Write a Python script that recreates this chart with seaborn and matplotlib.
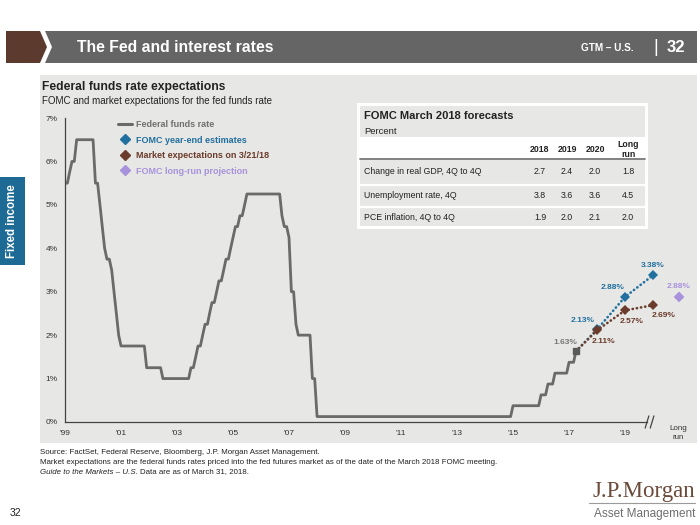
import pandas as pd
import seaborn as sns
import matplotlib.pyplot as plt
import matplotlib.dates as mdates
from matplotlib.patches import Polygon, Rectangle
from matplotlib.lines import Line2D

# Federal funds rate (month-end, midpoint of target range) - vertices of the line
ffr_month = ['1999-12', '2000-01', '2000-02', '2000-03', '2000-04', '2000-05', '2000-12',
             '2001-01', '2001-02', '2001-03', '2001-04', '2001-05', '2001-06', '2001-07',
             '2001-08', '2001-09', '2001-10', '2001-11', '2001-12', '2002-10', '2002-11',
             '2003-05', '2003-06', '2004-05', '2004-06', '2004-07', '2004-08', '2004-09',
             '2004-10', '2004-11', '2004-12', '2005-01', '2005-02', '2005-03', '2005-04',
             '2005-05', '2005-06', '2005-07', '2005-08', '2005-09', '2005-10', '2005-11',
             '2005-12', '2006-01', '2006-02', '2006-03', '2006-04', '2006-05', '2006-06',
             '2007-08', '2007-09', '2007-10', '2007-11', '2007-12', '2008-01', '2008-02',
             '2008-03', '2008-04', '2008-09', '2008-10', '2008-11', '2008-12', '2015-11',
             '2015-12', '2016-11', '2016-12', '2017-02', '2017-03', '2017-05', '2017-06',
             '2017-11', '2017-12', '2018-02', '2018-03']
ffr_rate = [5.5, 5.5, 5.75, 6.0, 6.0, 6.5, 6.5,
            5.5, 5.5, 5.0, 4.5, 4.0, 3.75, 3.75,
            3.5, 3.0, 2.5, 2.0, 1.75, 1.75, 1.25,
            1.25, 1.0, 1.0, 1.25, 1.25, 1.5, 1.75,
            1.75, 2.0, 2.25, 2.25, 2.5, 2.75, 2.75,
            3.0, 3.25, 3.25, 3.5, 3.75, 3.75, 4.0,
            4.25, 4.5, 4.5, 4.75, 4.75, 5.0, 5.25,
            5.25, 4.75, 4.5, 4.5, 4.25, 3.0, 3.0,
            2.25, 2.0, 2.0, 1.0, 1.0, 0.125, 0.125,
            0.375, 0.375, 0.625, 0.625, 0.875, 0.875, 1.125,
            1.125, 1.375, 1.375, 1.63]

# projections: current rate then year-end 2018, 2019, 2020
proj_dates = ['2018-03-31', '2018-12-31', '2019-12-31', '2020-12-31']
fomc_rate = [1.63, 2.13, 2.88, 3.38]
market_rate = [1.63, 2.11, 2.57, 2.69]
longrun_date = '2021-12-05'
longrun_rate = 2.88

year_ticks = ['1999-12-31', '2001-12-31', '2003-12-31', '2005-12-31', '2007-12-31', '2009-12-31',
              '2011-12-31', '2013-12-31', '2015-12-31', '2017-12-31', '2019-12-31']
year_labels = ["'99", "'01", "'03", "'05", "'07", "'09", "'11", "'13", "'15", "'17", "'19"]

# FOMC March 2018 forecasts table
tbl_cols = ['2018', '2019', '2020', 'Long\nrun']
tbl_rows = ['Change in real GDP, 4Q to 4Q', 'Unemployment rate, 4Q', 'PCE inflation, 4Q to 4Q']
tbl_vals = [[2.7, 2.4, 2.0, 1.8],
            [3.8, 3.6, 3.6, 4.5],
            [1.9, 2.0, 2.1, 2.0]]

GRAY_LINE = '#6a6a6a'
BLUE = '#22709f'
BROWN = '#6b3b2b'
LAV = '#a892dc'
PANEL = '#e7e7e5'
TXT = '#222222'

sns.set_theme(style='white')
plt.rcParams['font.family'] = ['Liberation Sans', 'DejaVu Sans']

fig = plt.figure(figsize=(7, 5.25), dpi=100)
fig.patch.set_facecolor('white')

# page furniture drawn in pixel coordinates
bg = fig.add_axes([0, 0, 1, 1], zorder=0)
bg.set_xlim(0, 700)
bg.set_ylim(525, 0)
bg.axis('off')

bg.add_patch(Polygon([(6, 31), (40, 31), (47, 47), (40, 63), (6, 63)], closed=True, fc='#5c3a2d', ec='none'))
bg.add_patch(Polygon([(45, 31), (697, 31), (697, 63), (45, 63), (52, 47)], closed=True, fc='#656565', ec='none'))
bg.text(77, 47.5, 'The Fed and interest rates', color='white', fontsize=11.3, weight='bold', va='center')
bg.text(634, 48, 'GTM \u2013 U.S.', color='white', fontsize=7.2, weight='bold', va='center', ha='right')
bg.text(656, 47, '|', color='white', fontsize=13, va='center', ha='center')
bg.text(685, 47.5, '32', color='white', fontsize=12, weight='bold', va='center', ha='right')

bg.add_patch(Rectangle((40, 75), 657, 368, fc=PANEL, ec='none'))

bg.add_patch(Rectangle((0, 177), 25, 88, fc='#1d6b95', ec='none'))
bg.text(12.5, 221, 'Fixed income', color='white', fontsize=8.3, weight='bold', rotation=90,
        ha='center', va='center')

bg.text(42, 87, 'Federal funds rate expectations', fontsize=8.7, weight='bold', color=TXT, va='center')
bg.text(42, 101, 'FOMC and market expectations for the fed funds rate', fontsize=7, color=TXT, va='center')

# forecast table
bg.add_patch(Rectangle((357, 103), 291, 126, fc='white', ec='none'))
bg.add_patch(Rectangle((360, 106), 285, 120, fc=PANEL, ec='none'))
bg.add_patch(Rectangle((360, 137), 285, 21, fc='white', ec='none'))
bg.plot([360, 645], [158.5, 158.5], color='#7a7a7a', lw=1.3)
for yy in (184.5, 206.5):
    bg.plot([360, 645], [yy, yy], color='white', lw=1.6)
bg.text(364, 116, 'FOMC March 2018 forecasts', fontsize=8, weight='bold', color=TXT, va='center')
bg.text(364, 131, 'Percent', fontsize=6.8, color=TXT, va='center')
col_x = [540, 567, 595, 628]
for cx, c in zip(col_x, tbl_cols):
    bg.text(cx, 149.5, c, fontsize=6.3, weight='bold', color=TXT, ha='center', va='center', linespacing=1.15)
for ry, r, vals in zip([172, 195, 217], tbl_rows, tbl_vals):
    bg.text(364, ry, r, fontsize=6.3, color=TXT, va='center')
    for cx, v in zip(col_x, vals):
        bg.text(cx, ry, f'{v:.1f}', fontsize=6.3, color=TXT, ha='center', va='center')

# footnotes
bg.text(40, 452, 'Source: FactSet, Federal Reserve, Bloomberg, J.P. Morgan Asset Management.',
        fontsize=5.7, color=TXT, va='center')
bg.text(40, 462, 'Market expectations are the federal funds rates priced into the fed futures market as of the date '
        'of the March 2018 FOMC meeting.', fontsize=5.7, color=TXT, va='center')
it = bg.text(40, 472, 'Guide to the Markets \u2013 U.S.', fontsize=5.7, style='italic', color=TXT, va='center')
fig.canvas.draw()
ext = it.get_window_extent().transformed(bg.transData.inverted())
bg.text(ext.x1 + 2, 472, 'Data are as of March 31, 2018.', fontsize=5.7, color=TXT, va='center')

bg.text(10, 513, '32', fontsize=7.5, color=TXT, va='center')

# logo
bg.text(695, 491, 'J.P.Morgan', fontsize=16.5, color='#6b4a3a', family=['Liberation Serif', 'DejaVu Serif'],
        ha='right', va='center')
bg.plot([589, 695], [503, 503], color='#9a9a9a', lw=0.8)
bg.text(695, 514, 'Asset Management', fontsize=8.5, color='#6e6e6e', ha='right', va='center')

# main chart
ax = fig.add_axes([65 / 700, 1 - 422 / 525, 630 / 700, 304 / 525], zorder=1)
ax.patch.set_alpha(0)

ffr = pd.DataFrame({'date': pd.to_datetime(ffr_month) + pd.offsets.MonthEnd(0), 'rate': ffr_rate})
sns.lineplot(data=ffr, x='date', y='rate', ax=ax, color=GRAY_LINE, lw=2.0, estimator=None)

proj = pd.DataFrame({'date': pd.to_datetime(proj_dates), 'fomc': fomc_rate, 'market': market_rate})
sns.lineplot(data=proj, x='date', y='fomc', ax=ax, color=BLUE, lw=1.9, ls=(0, (0.1, 1.5)),
             dash_capstyle='round', marker='D', ms=5.5, markevery=[1, 2, 3], mec=BLUE, mew=0,
             estimator=None, zorder=3)
sns.lineplot(data=proj, x='date', y='market', ax=ax, color=BROWN, lw=1.9, ls=(0, (0.1, 1.5)),
             dash_capstyle='round', marker='D', ms=5.5, markevery=[1, 2, 3], mec=BROWN, mew=0,
             estimator=None, zorder=4)
ax.plot(pd.Timestamp(proj_dates[0]), fomc_rate[0], marker='s', ms=5, color='#5a5a5a', zorder=5)
sns.scatterplot(x=[pd.Timestamp(longrun_date)], y=[longrun_rate], marker='D', s=30, color=LAV,
                edgecolor='none', ax=ax, zorder=4)

# data labels (offsets in pixels: right, down)
def label(date, val, color, dx, dy):
    ax.annotate(f'{val:.2f}%', (pd.Timestamp(date), val), xytext=(dx * 0.72, -dy * 0.72),
                textcoords='offset points', ha='center', va='center', fontsize=6,
                weight='bold', color=color)

label(proj_dates[0], fomc_rate[0], '#777777', -11, -9)
for d, v, off in zip(proj_dates[1:], fomc_rate[1:], [(-14, -9), (-12, -9), (0, -10)]):
    label(d, v, BLUE, *off)
for d, v, off in zip(proj_dates[1:], market_rate[1:], [(6, 11), (7, 11), (11, 10)]):
    label(d, v, BROWN, *off)
label(longrun_date, longrun_rate, LAV, 0, -10)

# axes styling
ax.set_xlim(pd.Timestamp('1999-12-31'), pd.Timestamp('2022-07-01'))
ax.set_ylim(0, 7)
ax.set_xlabel('')
ax.set_ylabel('')
ax.set_yticks(range(8))
ax.set_yticklabels([f'{i}%' for i in range(8)])
ax.set_xticks(pd.to_datetime(year_ticks))
ax.set_xticklabels(year_labels)
ax.tick_params(axis='both', labelsize=6, colors='#333333', length=2.5, width=0.6, direction='out', pad=3)
for s in ['top', 'right']:
    ax.spines[s].set_visible(False)
brk = mdates.date2num(pd.Timestamp('2020-11-15'))
for s in ['left', 'bottom']:
    ax.spines[s].set_color('#444444')
    ax.spines[s].set_linewidth(0.9)
ax.spines['bottom'].set_bounds(mdates.date2num(pd.Timestamp('1999-12-31')), brk - 33)
for off in (-33, 33):
    ax.plot([brk + off - 24, brk + off + 24], [-0.14, 0.14], color='#444444', lw=0.9, clip_on=False)
ax.text(pd.Timestamp('2021-11-25'), -0.08, 'Long\nrun', ha='center', va='top', fontsize=5.8,
        color='#333333', linespacing=1.25)

handles = [Line2D([], [], color=GRAY_LINE, lw=2.2),
           Line2D([], [], ls='none', marker='D', ms=5, color=BLUE),
           Line2D([], [], ls='none', marker='D', ms=5, color=BROWN),
           Line2D([], [], ls='none', marker='D', ms=5, color=LAV)]
names = ['Federal funds rate', 'FOMC year-end estimates', 'Market expectations on 3/21/18',
         'FOMC long-run projection']
leg = ax.legend(handles, names, loc='upper left', bbox_to_anchor=(0.084, 0.993), frameon=False,
                prop={'size': 6.5, 'weight': 'bold'}, handlelength=1.6, handletextpad=0.45,
                labelspacing=0.72, borderpad=0, borderaxespad=0)
for t, c in zip(leg.get_texts(), ['#707070', BLUE, BROWN, LAV]):
    t.set_color(c)

plt.savefig('out.png', dpi=100)
